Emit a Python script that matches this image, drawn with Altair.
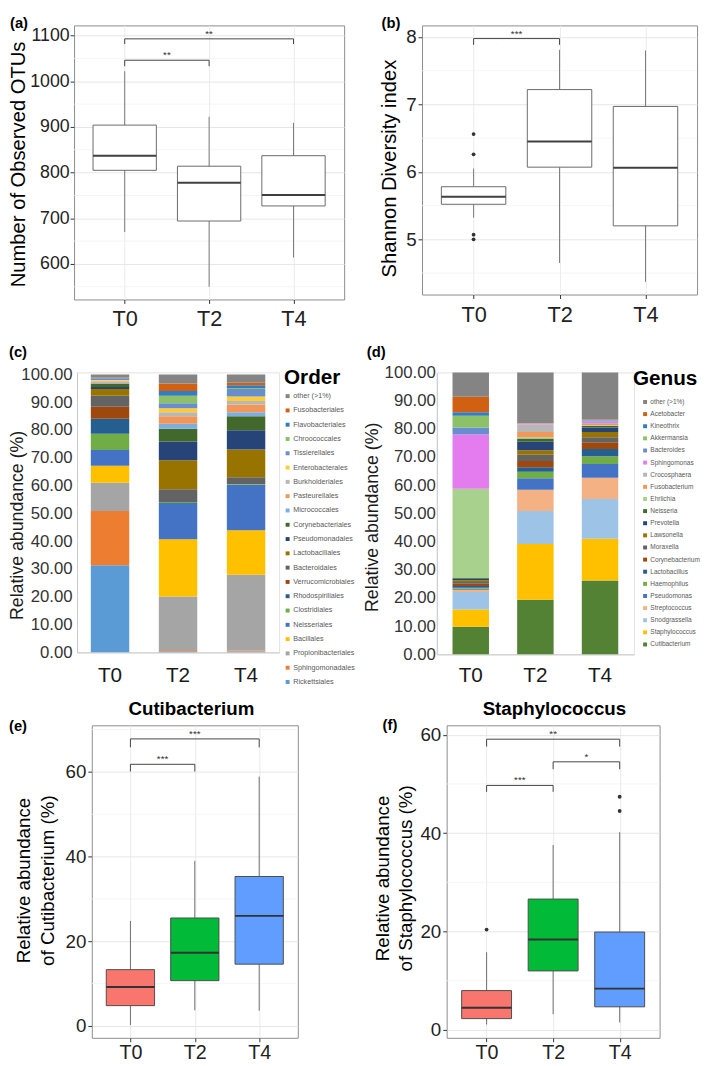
import json
import altair as alt
import pandas as pd

FONT = "Liberation Sans"
groups = ["T0", "T2", "T4"]

# ---------------- (a) Number of observed OTUs (box stats) ----------------
a_lower = [670, 550, 614]
a_q1 = [805, 694, 727]
a_median = [837, 778, 751]
a_q3 = [904, 814, 837]
a_upper = [1022, 922, 909]
a_out_group = []
a_out_value = []
a_sig_from = ["T0", "T0"]
a_sig_to = ["T4", "T2"]
a_sig_level = [1092.8, 1046.0]
a_sig_drop = [1081.3, 1033.0]
a_sig_text = ["**", "**"]
a_major_ticks = [600, 700, 800, 900, 1000, 1100]
a_minor_ticks = [550, 650, 750, 850, 950, 1050]

# ---------------- (b) Shannon diversity ----------------
b_lower = [5.32, 4.65, 4.37]
b_q1 = [5.52, 6.07, 5.20]
b_median = [5.63, 6.45, 6.06]
b_q3 = [5.78, 7.22, 6.97]
b_upper = [6.05, 7.81, 7.80]
b_out_group = ["T0", "T0", "T0", "T0"]
b_out_value = [6.56, 6.26, 5.07, 5.00]
b_sig_from = ["T0"]
b_sig_to = ["T2"]
b_sig_level = [7.976]
b_sig_drop = [7.883]
b_sig_text = ["***"]
b_major_ticks = [5, 6, 7, 8]
b_minor_ticks = [4.5, 5.5, 6.5, 7.5]

# ---------------- (c) Order composition (bottom -> top) ----------------
order_names = ["Rickettsiales", "Sphingomonadales", "Propionibacteriales", "Bacillales",
               "Neisseriales", "Clostridiales", "Rhodospirillales", "Verrucomicrobiales",
               "Bacteroidales", "Lactobacillales", "Pseudomonadales", "Corynebacteriales",
               "Micrococcales", "Pasteurellales", "Burkholderiales", "Enterobacterales",
               "Tissierellales", "Chroococcales", "Flavobacteriales", "Fusobacteriales",
               "other (>1%)"]
order_colors = ["#5B9BD5", "#ED7D31", "#A5A5A5", "#FFC000", "#4472C4", "#70AD47",
                "#255E91", "#9E480E", "#636363", "#997300", "#264478", "#43682B",
                "#7CAFDD", "#F1975A", "#B7B7B7", "#FFCD33", "#698ED0", "#8CC168",
                "#327DC2", "#D26012", "#848484"]
order_T0 = [31.3, 19.6, 10.1, 6.1, 5.7, 5.8, 5.4, 4.4, 3.9, 2.4, 0.8, 1.1,
            0.4, 0.4, 0.3, 0.3, 0.3, 0.2, 0.2, 0.2, 1.1]
order_T2 = [0.2, 0.3, 19.6, 20.6, 13.0, 0.4, 0.0, 0.0, 4.6, 10.4, 6.8, 4.5,
            1.8, 2.7, 1.5, 1.4, 1.8, 2.7, 1.7, 2.7, 3.3]
order_T4 = [0.3, 0.4, 27.2, 16.0, 16.4, 0.3, 0.0, 0.0, 2.4, 10.0, 6.9, 5.0,
            1.5, 2.8, 1.2, 1.6, 2.7, 0.4, 1.0, 0.9, 3.0]

# ---------------- (d) Genus composition (bottom -> top) ----------------
genus_names = ["Cutibacterium", "Staphylococcus", "Snodgrassella", "Streptococcus",
               "Pseudomonas", "Haemophilus", "Lactobacillus", "Corynebacterium",
               "Moraxella", "Lawsonella", "Prevotella", "Neisseria", "Ehrlichia",
               "Fusobacterium", "Crocosphaera", "Sphingomonas", "Bacteroides",
               "Akkermansia", "Kineothrix", "Acetobacter", "other (>1%)"]
genus_colors = ["#548235", "#FFC000", "#9DC3E6", "#F4B183", "#4472C4", "#70AD47",
                "#255E91", "#9E480E", "#636363", "#997300", "#264478", "#43682B",
                "#A9D18E", "#F1975A", "#B7B7B7", "#E47CF0", "#698ED0", "#8CC168",
                "#327DC2", "#D26012", "#848484"]
genus_T0 = [9.8, 6.1, 6.2, 0.8, 0.4, 0.3, 0.6, 0.8, 0.7, 0.6, 0.5, 0.3,
            31.6, 0.0, 0.0, 19.3, 2.5, 4.1, 1.3, 5.5, 8.6]
genus_T2 = [19.4, 19.7, 11.7, 7.6, 4.1, 2.3, 1.6, 2.2, 2.2, 1.6, 3.0, 1.2,
            0.4, 1.9, 2.6, 0.3, 0.1, 0.1, 0.0, 0.1, 17.9]
genus_T4 = [26.2, 14.8, 14.1, 7.5, 4.9, 2.8, 2.5, 2.4, 1.8, 1.9, 1.6, 0.5,
            0.3, 0.4, 0.4, 0.6, 0.2, 0.1, 0.1, 0.2, 16.7]
stack_ticks = [0, 10, 20, 30, 40, 50, 60, 70, 80, 90, 100]

# ---------------- (e) Cutibacterium ----------------
e_lower = [0.2, 3.7, 3.6]
e_q1 = [4.8, 10.7, 14.6]
e_median = [9.2, 17.3, 26.0]
e_q3 = [13.3, 25.5, 35.3]
e_upper = [24.8, 39.0, 58.9]
e_out_group = []
e_out_value = []
e_sig_from = ["T0", "T0"]
e_sig_to = ["T4", "T2"]
e_sig_level = [67.8, 61.8]
e_sig_drop = [65.8, 60.1]
e_sig_text = ["***", "***"]
e_major_ticks = [0, 20, 40, 60]
e_minor_ticks = [10, 30, 50, 70]

# ---------------- (f) Staphylococcus ----------------
f_lower = [1.1, 3.2, 1.5]
f_q1 = [2.3, 12.0, 4.7]
f_median = [4.5, 18.4, 8.4]
f_q3 = [8.0, 26.6, 19.9]
f_upper = [15.8, 37.6, 40.2]
f_out_group = ["T0", "T4", "T4"]
f_out_value = [20.4, 47.4, 44.5]
f_sig_from = ["T0", "T2", "T0"]
f_sig_to = ["T4", "T4", "T2"]
f_sig_level = [59.1, 54.5, 49.7]
f_sig_drop = [57.6, 53.0, 48.4]
f_sig_text = ["**", "*", "***"]
f_major_ticks = [0, 20, 40, 60]
f_minor_ticks = [10, 30, 50]

box_fills = ["#F8766D", "#00BA38", "#619CFF"]
headings = ["Cutibacterium", "Staphylococcus"]


def pos_of(g):
    return groups.index(g) + 1


def bound_rule(y):
    return alt.Chart(pd.DataFrame({"k": [0]})).mark_rule(opacity=0).encode(
        x=alt.value(0), x2=alt.value(1), y=alt.value(y))


def text_label(txt, x, y, size, weight="bold", align="left", baseline="top"):
    return alt.Chart(pd.DataFrame({"t": [txt]})).mark_text(
        align=align, baseline=baseline, fontSize=size, fontWeight=weight,
        font=FONT, color="black").encode(x=alt.value(x), y=alt.value(y), text="t:N")


def spacer(w):
    return alt.Chart(pd.DataFrame({"k": [0]})).mark_rule(opacity=0).encode(
        x=alt.value(0), x2=alt.value(1), y=alt.value(0)).properties(width=w, height=1)


def box_panel(lower, q1, med, q3, upper, out_group, out_value,
              sig_from, sig_to, sig_level, sig_drop, sig_text, major_ticks, minor_ticks, *,
              width, height, ydomain, ytitle, ytitle_x, ytitle_y,
              ytitle_size, ylab_size, ylab_pad, xlab_size, xlab_pad, fills, box_stroke,
              med_color, whisk_color, label, label_x, label_y,
              heading=None, heading_x=None, bounds=()):
    pos = [pos_of(g) for g in groups]
    stats = pd.DataFrame({"group": groups, "pos": pos, "lower": lower, "q1": q1,
                          "median": med, "q3": q3, "upper": upper})
    xs = alt.Scale(domain=[0.4, 3.6], nice=False, zero=False)
    ys = alt.Scale(domain=ydomain, nice=False, zero=False)
    xaxis = alt.Axis(values=pos, labelExpr=f"{json.dumps(groups)}[datum.value - 1]",
                     title=None, grid=True, gridColor="#ebebeb", gridWidth=1,
                     domain=False, ticks=True, tickSize=4, tickColor="#333333",
                     labelFontSize=xlab_size, labelColor="#222222", labelPadding=xlab_pad,
                     labelFont=FONT, labelFlush=False, labelAngle=0, labelOverlap=False)
    yaxis = alt.Axis(values=major_ticks, format="d", grid=True, gridColor="#e6e6e6",
                     gridWidth=1, domain=False, ticks=True, tickSize=4, tickColor="#333333",
                     labelFontSize=ylab_size, labelColor="#222222", labelPadding=ylab_pad,
                     labelFont=FONT, labelFlush=False, labelOverlap=False,
                     title=ytitle, titleX=ytitle_x, titleY=ytitle_y, titleAngle=270,
                     titleAlign="center", titleBaseline="top", titleFontSize=ytitle_size,
                     titleFontWeight="normal", titleColor="black", titleFont=FONT,
                     titleLineHeight=24)

    def X(f):
        return alt.X(f, type="quantitative", scale=xs, axis=xaxis)

    def Y(f):
        return alt.Y(f, type="quantitative", scale=ys, axis=yaxis)

    minor = alt.Chart(pd.DataFrame({"v": minor_ticks})).mark_rule(
        color="#f2f2f2", strokeWidth=0.8).encode(y=Y("v"))
    base = alt.Chart(stats)
    whisk = base.mark_rule(color=whisk_color, strokeWidth=1).encode(
        x=X("pos"), y=Y("lower"), y2=alt.Y2("upper"))
    boxes = base.transform_calculate(x0="datum.pos - 0.375", x1="datum.pos + 0.375")
    if fills:
        box = boxes.mark_bar(stroke=box_stroke, strokeWidth=1).encode(
            x=X("x0"), x2=alt.X2("x1"), y=Y("q1"), y2=alt.Y2("q3"),
            color=alt.Color("group:N", scale=alt.Scale(domain=groups, range=fills), legend=None))
    else:
        box = boxes.mark_bar(fill="white", stroke=box_stroke, strokeWidth=1).encode(
            x=X("x0"), x2=alt.X2("x1"), y=Y("q1"), y2=alt.Y2("q3"))
    medl = boxes.mark_rule(color=med_color, strokeWidth=2).encode(
        x=X("x0"), x2=alt.X2("x1"), y=Y("median"))
    layers = [minor, whisk, box, medl]
    if out_value:
        outs = pd.DataFrame({"pos": [pos_of(g) for g in out_group], "value": out_value})
        layers.append(alt.Chart(outs).mark_circle(size=15, color="#333333", opacity=1).encode(
            x=X("pos"), y=Y("value")))
    sig = pd.DataFrame({"x_from": [pos_of(g) for g in sig_from],
                        "x_to": [pos_of(g) for g in sig_to],
                        "level": sig_level, "drop": sig_drop, "label": sig_text})
    sb = alt.Chart(sig)
    layers += [
        sb.mark_rule(color="#444444", strokeWidth=1).encode(x=X("x_from"), x2=alt.X2("x_to"), y=Y("level")),
        sb.mark_rule(color="#444444", strokeWidth=1).encode(x=X("x_from"), y=Y("drop"), y2=alt.Y2("level")),
        sb.mark_rule(color="#444444", strokeWidth=1).encode(x=X("x_to"), y=Y("drop"), y2=alt.Y2("level")),
        sb.transform_calculate(mid="(datum.x_from + datum.x_to) / 2").mark_text(
            fontSize=10, dy=-2, baseline="alphabetic", color="#333333", font=FONT).encode(
            x=X("mid"), y=Y("level"), text="label:N"),
        text_label(label, label_x, label_y, 15),
    ]
    if heading:
        layers.append(text_label(heading, heading_x, -10.4, 19, align="center", baseline="alphabetic"))
    layers += [bound_rule(b) for b in bounds]
    return alt.layer(*layers).properties(
        width=width, height=height,
        view=alt.ViewBackground(stroke="#8c8c8c", strokeWidth=1, fill="white"))


def stack_panel(names, colors, v0, v2, v4, legend_title, *, width, height, ydomain,
                pad_inner, pad_outer, ytitle_x, ytitle_y, ylab_pad, xlab_pad, legend_x, legend_y,
                legend_title_pad, legend_row_pad, legend_label_size, symbol_offset,
                label, label_x, label_y, bounds=()):
    recs = []
    for g, vals in zip(groups, [v0, v2, v4]):
        for i, (n, v) in enumerate(zip(names, vals)):
            recs.append({"group": g, "taxon": n, "idx": i, "value": v})
    df = pd.DataFrame(recs)
    bars = alt.Chart(df).mark_bar().encode(
        x=alt.X("group:N", sort=groups,
                scale=alt.Scale(paddingInner=pad_inner, paddingOuter=pad_outer),
                axis=alt.Axis(title=None, labelAngle=0, labelFontSize=21, labelColor="#1a1a1a",
                              labelFont=FONT, ticks=False, tickSize=0, domain=True,
                              domainColor="#c8c8c8", labelPadding=xlab_pad)),
        y=alt.Y("value:Q", stack="zero",
                scale=alt.Scale(domain=ydomain, nice=False, zero=True),
                axis=alt.Axis(values=stack_ticks, format=".2f", labelOverlap=False,
                              labelFontSize=17, labelColor="#333333", labelFont=FONT,
                              ticks=False, tickSize=0, grid=False, domain=True,
                              domainColor="#c8c8c8", labelPadding=ylab_pad,
                              title="Relative abundance (%)", titleX=ytitle_x, titleY=ytitle_y,
                              titleAngle=270, titleAlign="center", titleBaseline="top",
                              titleFontSize=18, titleFontWeight="normal", titleColor="#1a1a1a",
                              titleFont=FONT)),
        color=alt.Color("taxon:N",
                        scale=alt.Scale(domain=names[::-1], range=colors[::-1]),
                        legend=alt.Legend(title=legend_title, orient="none",
                                          legendX=legend_x, legendY=legend_y,
                                          direction="vertical", padding=0,
                                          titleFontSize=21, titleFont=FONT,
                                          titleFontWeight="bold", titleColor="black",
                                          titleBaseline="top", titlePadding=legend_title_pad,
                                          labelFontSize=legend_label_size, labelFont=FONT,
                                          labelColor="#595959", labelOffset=2, labelLimit=200,
                                          symbolType="square", symbolSize=16,
                                          symbolStrokeWidth=0, symbolOffset=symbol_offset,
                                          rowPadding=legend_row_pad, symbolLimit=50)),
        order=alt.Order("idx:Q", sort="ascending"))
    layers = [bars, text_label(label, label_x, label_y, 15)]
    layers += [bound_rule(b) for b in bounds]
    return alt.layer(*layers).properties(
        width=width, height=height,
        view=alt.ViewBackground(stroke="#e3e3e3", strokeWidth=1, fill="white"))


pa = box_panel(a_lower, a_q1, a_median, a_q3, a_upper, a_out_group, a_out_value,
               a_sig_from, a_sig_to, a_sig_level, a_sig_drop, a_sig_text,
               a_major_ticks, a_minor_ticks,
               width=274, height=278, ydomain=[522.3, 1122.2],
               ytitle="Number of Observed OTUs", ytitle_x=-66, ytitle_y=140.5,
               ytitle_size=20.5, ylab_size=18, ylab_pad=1, xlab_size=22, xlab_pad=5,
               fills=None, box_stroke="#6a6a6a", med_color="#404040", whisk_color="#7a7a7a",
               label="(a)", label_x=-65, label_y=-9, bounds=(-9, 315))

pb = box_panel(b_lower, b_q1, b_median, b_q3, b_upper, b_out_group, b_out_value,
               b_sig_from, b_sig_to, b_sig_level, b_sig_drop, b_sig_text,
               b_major_ticks, b_minor_ticks,
               width=279, height=273, ydomain=[4.182, 8.171],
               ytitle="Shannon Diversity index", ytitle_x=-42.5, ytitle_y=144.7,
               ytitle_size=20.5, ylab_size=19, ylab_pad=2, xlab_size=22, xlab_pad=6,
               fills=None, box_stroke="#6a6a6a", med_color="#404040", whisk_color="#7a7a7a",
               label="(b)", label_x=-41, label_y=-9, bounds=(-9,))

pc = stack_panel(order_names, order_colors, order_T0, order_T2, order_T4, "Order",
                 width=205, height=284, ydomain=[0, 100.71], pad_inner=0.435, pad_outer=0.203,
                 ytitle_x=-69, ytitle_y=154.7, ylab_pad=5, xlab_pad=12.4, legend_x=210,
                 legend_y=-5.6, legend_title_pad=5, legend_row_pad=6.5, legend_label_size=7.3,
                 symbol_offset=0, label="(c)", label_x=-69, label_y=-28, bounds=(-35, 323))

pd_ = stack_panel(genus_names, genus_colors, genus_T0, genus_T2, genus_T4, "Genus",
                  width=200, height=286, ydomain=[0, 100], pad_inner=0.436, pad_outer=0.243,
                  ytitle_x=-74.3, ytitle_y=146.5, ylab_pad=1.5, xlab_pad=10.4, legend_x=199,
                  legend_y=-4.5, legend_title_pad=10.2, legend_row_pad=5.3,
                  legend_label_size=6.6, symbol_offset=9, label="(d)", label_x=-71, label_y=-28)

pe = box_panel(e_lower, e_q1, e_median, e_q3, e_upper, e_out_group, e_out_value,
               e_sig_from, e_sig_to, e_sig_level, e_sig_drop, e_sig_text,
               e_major_ticks, e_minor_ticks,
               width=209, height=317, ydomain=[-2.80, 71.01],
               ytitle=["Relative abundance", "of Cutibacterium (%)"], ytitle_x=-78.3,
               ytitle_y=157, ytitle_size=19, ylab_size=19, ylab_pad=2, xlab_size=20,
               xlab_pad=1.5, fills=box_fills, box_stroke="#4d4d4d", med_color="#333333",
               whisk_color="#6e6e6e", label="(e)", label_x=-84, label_y=-6.7,
               heading=headings[0], heading_x=101, bounds=(-32.7,))

pf = box_panel(f_lower, f_q1, f_median, f_q3, f_upper, f_out_group, f_out_value,
               f_sig_from, f_sig_to, f_sig_level, f_sig_drop, f_sig_text,
               f_major_ticks, f_minor_ticks,
               width=216, height=317, ydomain=[-1.60, 61.92],
               ytitle=["Relative abundance", "of Staphylococcus (%)"], ytitle_x=-74.3,
               ytitle_y=154.8, ytitle_size=19, ylab_size=19, ylab_pad=2, xlab_size=20,
               xlab_pad=1.5, fills=box_fills, box_stroke="#4d4d4d", med_color="#333333",
               whisk_color="#6e6e6e", label="(f)", label_x=-65, label_y=-7,
               heading=headings[1], heading_x=109.3)

row1 = alt.hconcat(pa, pb, spacing=79, bounds="flush")
row2 = alt.hconcat(spacer(3), pc, spacer(160), pd_, spacing=0, bounds="flush").resolve_scale(color="independent")
row3 = alt.hconcat(spacer(18), pe, spacer(151), pf, spacing=0, bounds="flush").resolve_scale(color="independent")

chart = alt.vconcat(row1, row2, row3, spacing=0).resolve_scale(color="independent").properties(
    padding=0
).configure(font=FONT).configure_view(stroke="transparent")

chart.save("out.html", embed_options={"renderer": "svg", "actions": False})
